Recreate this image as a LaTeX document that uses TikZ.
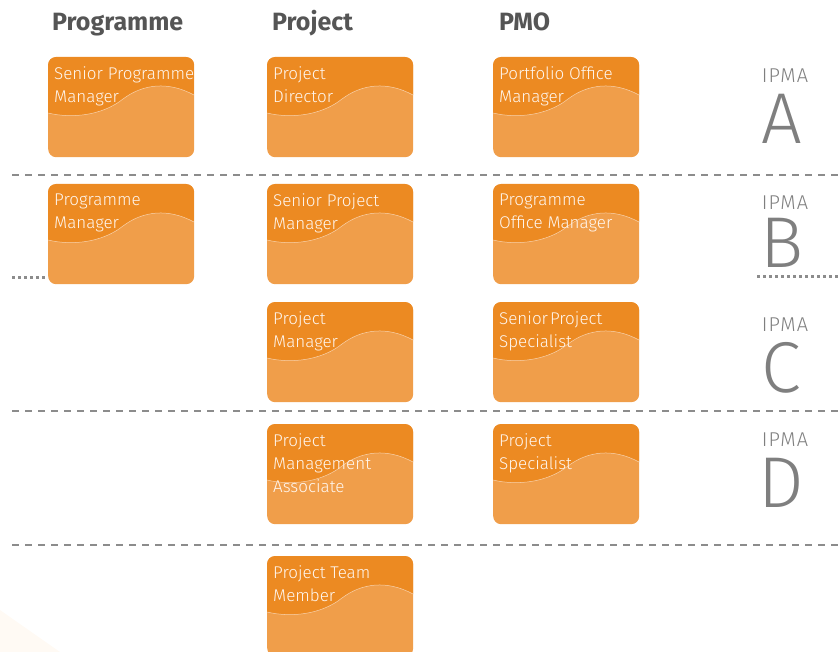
\documentclass[tikz,border=0pt]{standalone}
\usepackage{fontspec}
\setmainfont{Fira Sans}
\newfontfamily\lightfont{Fira Sans Light}
\newfontfamily\ipmafont{Fira Sans Light}[LetterSpace=5]
\usepackage{xcolor}
\usepackage{tikz}
\definecolor{roledark}{HTML}{EC8A22}
\definecolor{rolelight}{HTML}{F09E4A}
\definecolor{headgray}{HTML}{555555}
\definecolor{levelgray}{HTML}{8C8C8C}
\definecolor{ipmagray}{HTML}{7F7F7F}
\definecolor{cream}{HTML}{FFFAF4}
\colorlet{rolewhite}{white!94!orange}
\tikzstyle{head}=[anchor=base west,inner sep=0pt,text=headgray,font=\bfseries\fontsize{25}{29}\selectfont]
\tikzstyle{level}=[levelgray,line width=1.7pt,dash pattern=on 7pt off 6pt]
\tikzstyle{border}=[levelgray,line width=3pt,dash pattern=on 3.3pt off 2.7pt]
\tikzstyle{role}=[anchor=north west,rectangle,rounded corners=8pt,inner sep=0pt,
  minimum width=146pt,minimum height=100pt,fill=rolelight]
\tikzstyle{wave}=[white!55!rolelight,line width=.5pt]
\tikzstyle{roletext}=[anchor=north west,inner sep=0pt,align=left,text=rolewhite,
  font=\lightfont\fontsize{17}{23}\selectfont]
\tikzstyle{ipma}=[anchor=base,inner sep=0pt,text=ipmagray,font=\ipmafont\fontsize{20}{24}\selectfont]
\tikzstyle{grade}=[anchor=base,inner sep=0pt,text=ipmagray,font=\lightfont\fontsize{72}{80}\selectfont]
\newcommand\wavepath{(0,56) .. controls (25,62) and (55,58) .. (75,42)
  .. controls (95,27) and (120,24) .. (146,38)}
\newcommand\rolebox[4]{%
  \node[role] (#1) at (#2,#3) {};
  \begin{scope}[shift={(#2,#3)}]
    \clip[rounded corners=8pt] (0,0) rectangle (146,100);
    \fill[roledark] (0,0) -- \wavepath -- (146,0) -- cycle;
    \draw[wave] \wavepath;
  \end{scope}
  \node[roletext] (#1-t) at ([xshift=6pt,yshift=-9.5pt]#1.north west) {#4};}
\begin{document}
\begin{tikzpicture}[x=1pt,y=-1pt]
	\clip (0,0) rectangle (840,652);
	\fill[cream] (0,610) -- (60,652) -- (0,652) -- cycle;
	% column heads
	\node[head] (h-prog) at (52,31) {Programme};
	\node[head] (h-proj) at (272,31) {Project};
	\node[head] (h-pmo) at (499,31) {PMO};
	% level separators
	\draw[level] (12,175) -- (840,175);
	\draw[level] (12,411) -- (840,411);
	\draw[level] (12,545) -- (840,545);
	\draw[border] (12,277) -- (48,277);
	\draw[border] (757,276) -- (840,276);
	% roles
	\rolebox{a1}{48}{57}{Senior Programme\\Manager}
	\rolebox{a2}{267}{57}{Project\\Director}
	\rolebox{a3}{493}{57}{Portfolio Office\\Manager}
	\rolebox{b1}{48}{184}{Programme\\Manager}
	\rolebox{b2}{267}{184}{Senior Project\\Manager}
	\rolebox{b3}{493}{184}{Programme\\Office Manager}
	\rolebox{c2}{267}{302}{Project\\Manager}
	\rolebox{c3}{493}{302}{Senior\kern2pt Project\\Specialist}
	\rolebox{d2}{267}{424}{Project\\Management\\Associate}
	\rolebox{d3}{493}{424}{Project\\Specialist}
	\rolebox{e2}{267}{556}{Project Team\\Member}
	% IPMA levels
	\node[ipma] (ipma-a) at (785,83) {IPMA};
	\node[grade] (grade-a) at (782,144) {A};
	\node[ipma] (ipma-b) at (785,210) {IPMA};
	\node[grade] (grade-b) at (782,268) {B};
	\node[ipma] (ipma-c) at (785,331) {IPMA};
	\node[grade] (grade-c) at (781,392) {C};
	\node[ipma] (ipma-d) at (785,446) {IPMA};
	\node[grade] (grade-d) at (781,507) {D};
\end{tikzpicture}
\end{document}
